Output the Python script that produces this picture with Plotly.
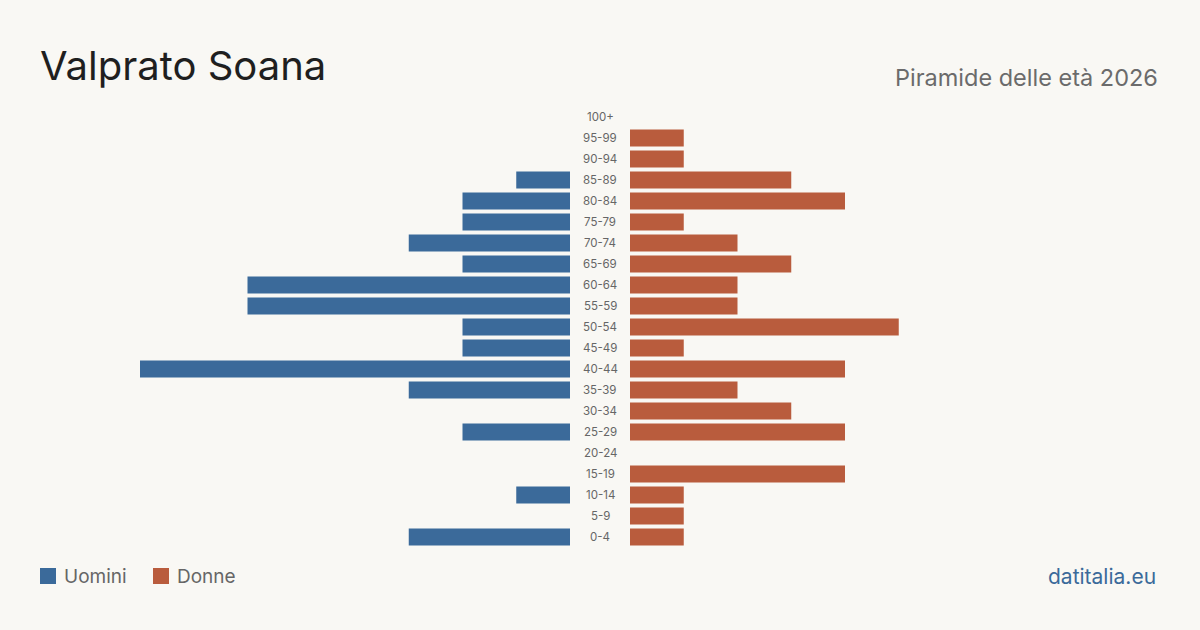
import plotly.graph_objects as go

ages = ["0-4", "5-9", "10-14", "15-19", "20-24", "25-29", "30-34", "35-39", "40-44", "45-49",
        "50-54", "55-59", "60-64", "65-69", "70-74", "75-79", "80-84", "85-89", "90-94", "95-99", "100+"]
males = [3, 0, 1, 0, 0, 2, 0, 3, 8, 2, 2, 6, 6, 2, 3, 2, 2, 1, 0, 0, 0]
females = [1, 1, 1, 4, 0, 4, 3, 2, 4, 1, 5, 2, 2, 3, 2, 1, 4, 3, 1, 1, 0]

BLUE = "#3b6a9a"
ORANGE = "#b95c3d"
BG = "#f9f8f4"
FONT = "Inter, Roboto, sans-serif"

W, H = 1200, 630
fig = go.Figure()
fig.add_trace(go.Bar(y=ages, x=males, orientation="h", marker=dict(color=BLUE, line=dict(width=0)),
                     xaxis="x", yaxis="y", name="Uomini", showlegend=False))
fig.add_trace(go.Bar(y=ages, x=females, orientation="h", marker=dict(color=ORANGE, line=dict(width=0)),
                     xaxis="x2", yaxis="y", name="Donne", showlegend=False))

annotations = []
for a in ages:
    annotations.append(dict(x=0.5, xref="paper", y=a, yref="y", text=a, showarrow=False,
                            xanchor="center", yanchor="middle",
                            font=dict(family=FONT, size=11.5, color="#666666")))

annotations += [
    dict(x=38 / W, y=1 - 66 / H, xref="paper", yref="paper", text="Valprato Soana", showarrow=False,
         xanchor="left", yanchor="middle", font=dict(family=FONT, size=40, color="#1f1f1f")),
    dict(x=1160 / W, y=1 - 77 / H, xref="paper", yref="paper", text="Piramide delle età 2026", showarrow=False,
         xanchor="right", yanchor="middle", font=dict(family=FONT, size=23.5, color="#6b6b6b")),
    dict(x=62 / W, y=1 - 576 / H, xref="paper", yref="paper", text="Uomini", showarrow=False,
         xanchor="left", yanchor="middle", font=dict(family=FONT, size=19, color="#666666")),
    dict(x=175 / W, y=1 - 576 / H, xref="paper", yref="paper", text="Donne", showarrow=False,
         xanchor="left", yanchor="middle", font=dict(family=FONT, size=19, color="#666666")),
    dict(x=1158 / W, y=1 - 576 / H, xref="paper", yref="paper", text="datitalia.eu", showarrow=False,
         xanchor="right", yanchor="middle", font=dict(family=FONT, size=21, color=BLUE)),
]

shapes = [
    dict(type="rect", xref="paper", yref="paper", x0=40 / W, x1=56 / W, y0=1 - 584 / H, y1=1 - 568 / H,
         fillcolor=BLUE, line=dict(width=0)),
    dict(type="rect", xref="paper", yref="paper", x0=153 / W, x1=169 / W, y0=1 - 584 / H, y1=1 - 568 / H,
         fillcolor=ORANGE, line=dict(width=0)),
]

fig.update_layout(
    width=W, height=H, autosize=False,
    margin=dict(l=0, r=0, t=0, b=0),
    paper_bgcolor=BG, plot_bgcolor=BG,
    bargap=4 / 21,
    xaxis=dict(domain=[140 / W, 570 / W], range=[8, 0], visible=False, fixedrange=True),
    xaxis2=dict(domain=[630 / W, 1060 / W], range=[0, 8], visible=False, fixedrange=True),
    yaxis=dict(domain=[1 - 547.5 / H, 1 - 106.5 / H], range=[-0.5, 20.5], type="category",
               categoryorder="array", categoryarray=ages, visible=False, fixedrange=True),
    annotations=annotations,
    shapes=shapes,
    showlegend=False,
)

fig.write_html("out.html", config={"displayModeBar": False})
